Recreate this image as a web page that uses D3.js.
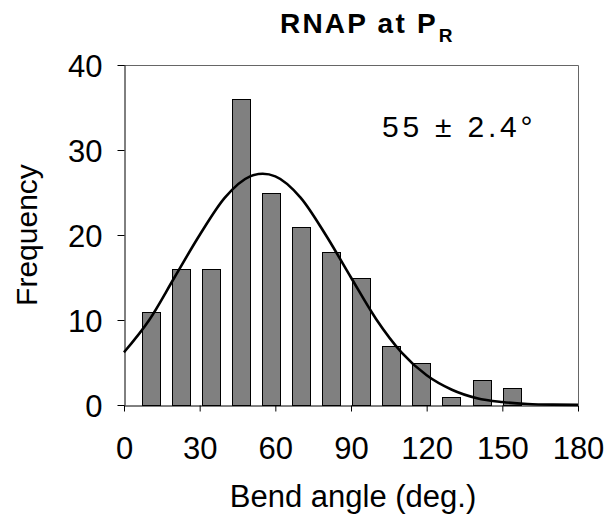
<!DOCTYPE html>
<html>
<head>
<meta charset="utf-8">
<script src="https://cdn.jsdelivr.net/npm/d3@7"></script>
<style>
  body { margin: 0; background: #fff; }
  text { font-family: "Liberation Sans", Arial, sans-serif; fill: #000; }
</style>
</head>
<body>
<script>
// histogram bins (bin centre in degrees) and counts
const binCenters = [10.6, 22.5, 34.4, 46.4, 58.3, 70.2, 82.1, 94.1, 106, 117.9, 129.8, 141.8, 153.7];
const counts = [11, 16, 16, 36, 25, 21, 18, 15, 7, 5, 1, 3, 2];

// fitted gaussian
const fitAngles = [0, 10, 20, 30, 40, 50, 55, 60, 70, 80, 90, 100, 110, 120, 130, 140, 150, 160, 170, 180];
const fitFreq = [6.2, 10.0, 15.0, 20.0, 24.4, 26.9, 27.2, 26.9, 24.4, 20.0, 15.0, 10.1, 6.2, 3.5, 1.8, 0.8, 0.35, 0.12, 0.04, 0.02];

const xTicks = [0, 30, 60, 90, 120, 150, 180];
const yTicks = [0, 10, 20, 30, 40];

function main(){
    const W = 611, H = 519;
    const left = 124, right = 578, top = 65, bottom = 405;

    const svg = d3.select("body").append("svg")
        .attr("width", W)
        .attr("height", H);

    const x = d3.scaleLinear().domain([0, 180]).range([left, right]);
    const y = d3.scaleLinear().domain([0, 40]).range([bottom, top]);

    // frame (top + right)
    svg.append("path")
        .attr("d", `M${left},${top + 0.5}H${right + 0.5}V${bottom}`)
        .attr("fill", "none")
        .attr("stroke", "#666")
        .attr("stroke-width", 1);

    // bars
    const barW = 18;
    svg.append("g").selectAll("rect")
        .data(counts)
        .join("rect")
        .attr("x", (d, i) => Math.round(x(binCenters[i]) - barW / 2) + 0.5)
        .attr("y", d => Math.round(y(d)) + 0.5)
        .attr("width", barW)
        .attr("height", d => bottom - Math.round(y(d)))
        .attr("fill", "#808080")
        .attr("stroke", "#000")
        .attr("stroke-width", 1);

    // fit curve
    const line = d3.line()
        .x((d, i) => x(fitAngles[i]))
        .y(d => y(d))
        .curve(d3.curveMonotoneX);
    svg.append("path")
        .datum(fitFreq)
        .attr("d", line)
        .attr("fill", "none")
        .attr("stroke", "#000")
        .attr("stroke-width", 2.6);

    // axes
    const xAxis = svg.append("g")
        .attr("transform", `translate(0,${bottom + 0.5})`)
        .call(d3.axisBottom(x).tickValues(xTicks).tickSize(6).tickSizeOuter(0).tickPadding(25));
    const yAxis = svg.append("g")
        .attr("transform", `translate(${left + 0.5},0)`)
        .call(d3.axisLeft(y).tickValues(yTicks).tickSize(7).tickSizeOuter(0).tickPadding(15));

    [xAxis, yAxis].forEach(g => {
        g.select(".domain").attr("stroke", "#000");
        g.selectAll(".tick line").attr("stroke", "#000");
        g.selectAll("text")
            .attr("font-size", "31px")
            .attr("font-family", "Liberation Sans, Arial, sans-serif")
            .attr("fill", "#000");
    });
    yAxis.selectAll("text").attr("dy", "0.38em");

    // axis titles
    svg.append("text")
        .attr("x", (left + right) / 2 + 2)
        .attr("y", 507)
        .attr("text-anchor", "middle")
        .attr("font-size", "31px")
        .text("Bend angle (deg.)");

    svg.append("text")
        .attr("transform", `translate(37,${(top + bottom) / 2}) rotate(-90)`)
        .attr("text-anchor", "middle")
        .attr("font-size", "30px")
        .text("Frequency");

    // title
    const title = svg.append("text")
        .attr("x", 280)
        .attr("y", 33)
        .attr("font-size", "28px")
        .attr("letter-spacing", "2.2px")
        .attr("font-weight", "bold");
    title.append("tspan").text("RNAP at P");
    title.append("tspan")
        .attr("font-size", "19px")
        .attr("letter-spacing", "0px")
        .attr("dx", 1)
        .attr("dy", 9)
        .text("R");

    // annotation
    svg.append("text")
        .attr("x", 382)
        .attr("y", 137)
        .attr("font-size", "30px")
        .attr("letter-spacing", "3.8px")
        .text("55 ± 2.4°");
}
main();
</script>
</body>
</html>
